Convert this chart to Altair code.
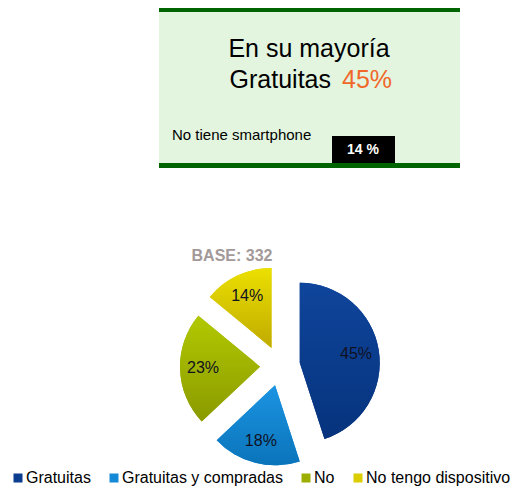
import altair as alt
import pandas as pd

# ---- data ----
categories = ["Gratuitas", "Gratuitas y compradas", "No", "No tengo dispositivo"]
values = [45, 18, 23, 14]
labels = ["45%", "18%", "23%", "14%"]
flat_colors = ["#0c3c8e", "#1689d6", "#9cae00", "#dccd00"]
grad_top = ["#0f459c", "#1c94e2", "#b2c900", "#ebe000"]
grad_bottom = ["#06337c", "#0a74ba", "#8a9a00", "#c0aa00"]

headline_1 = "En su mayoría"
headline_2a = "Gratuitas"
headline_2b = "45%"
side_label = "No tiene smartphone"
side_value = "14 %"
base_label = "BASE: 332"

df = pd.DataFrame({"cat": categories, "value": values, "label": labels,
                   "order": list(range(len(categories)))})

CX, CY, R, EXPLODE, LABEL_R = 272, 358, 80, 20, 57

base = (
    alt.Chart(df)
    .transform_window(cum="sum(value)", sort=[alt.SortField("order")])
    .transform_joinaggregate(total="sum(value)")
    .transform_calculate(
        t0="2*PI*(datum.cum-datum.value)/datum.total",
        t1="2*PI*datum.cum/datum.total",
    )
    .transform_calculate(tm="(datum.t0+datum.t1)/2")
    .transform_calculate(
        ax=f"{CX}+{EXPLODE}*sin(datum.tm)",
        ay=f"{CY}-{EXPLODE}*cos(datum.tm)",
    )
    .transform_calculate(
        lx=f"datum.ax+{LABEL_R}*sin(datum.tm)",
        ly=f"datum.ay-{LABEL_R}*cos(datum.tm)",
    )
)

pos = dict(
    x=alt.X("ax:Q", scale=None, axis=None),
    y=alt.Y("ay:Q", scale=None, axis=None),
    theta=alt.Theta("t0:Q", scale=None),
    theta2="t1:Q",
)

legend_layer = base.mark_arc(radius=R).encode(
    color=alt.Color(
        "cat:N",
        sort=categories,
        scale=alt.Scale(domain=categories, range=flat_colors),
        legend=alt.Legend(
            title=None,
            orient="none",
            legendX=2,
            legendY=462,
            direction="horizontal",
            symbolType="square",
            symbolSize=81,
            symbolStrokeWidth=0,
            labelFontSize=16,
            labelFont="Liberation Sans",
            labelColor="#000000",
            labelOffset=0,
            labelLimit=0,
            columnPadding=15,
            padding=0,
        ),
    ),
    **pos,
)

grad_layers = []
for i, c in enumerate(categories):
    g = alt.LinearGradient(
        gradient="linear",
        stops=[alt.GradientStop(color=grad_top[i], offset=0),
               alt.GradientStop(color=grad_bottom[i], offset=1)],
        x1=0, x2=0, y1=0, y2=1,
    )
    grad_layers.append(
        base.transform_filter(alt.datum.cat == c)
        .mark_arc(radius=R, fill=g)
        .encode(**pos)
    )

slice_text = base.mark_text(
    font="Liberation Sans", fontSize=16, color="#111122", baseline="middle", align="center"
).encode(
    x=alt.X("lx:Q", scale=None, axis=None),
    y=alt.Y("ly:Q", scale=None, axis=None),
    text="label:N",
)

one = alt.Chart(alt.Data(values=[{"k": 0}]))

box = one.mark_rect(color="#e3f5df").encode(
    x=alt.value(151), x2=alt.value(452), y=alt.value(0), y2=alt.value(159))
top_bar = one.mark_rect(color="#006400").encode(
    x=alt.value(151), x2=alt.value(452), y=alt.value(0), y2=alt.value(4))
bot_bar = one.mark_rect(color="#006400").encode(
    x=alt.value(151), x2=alt.value(452), y=alt.value(155), y2=alt.value(160))
black_box = one.mark_rect(color="#000000").encode(
    x=alt.value(324), x2=alt.value(387), y=alt.value(128), y2=alt.value(155))

t1 = one.mark_text(text=headline_1, font="Liberation Sans", fontSize=25, color="#000000",
                   align="center", baseline="alphabetic").encode(x=alt.value(301), y=alt.value(49))
t2a = one.mark_text(text=headline_2a, font="Liberation Sans", fontSize=25, color="#000000",
                    align="right", baseline="alphabetic").encode(x=alt.value(323), y=alt.value(80))
t2b = one.mark_text(text=headline_2b, font="Liberation Sans", fontSize=25, color="#f0682a",
                    align="left", baseline="alphabetic").encode(x=alt.value(334), y=alt.value(80))
t3 = one.mark_text(text=side_label, font="Liberation Sans", fontSize=15, color="#000000",
                   align="left", baseline="alphabetic").encode(x=alt.value(164), y=alt.value(132))
t4 = one.mark_text(text=side_value, font="Liberation Sans", fontSize=14, fontWeight="bold",
                   color="#ffffff", align="center", baseline="alphabetic").encode(
    x=alt.value(355), y=alt.value(146))
t5 = one.mark_text(text=base_label, font="Liberation Sans", fontSize=16, fontWeight="bold",
                   color="#a39999", align="center", baseline="alphabetic").encode(
    x=alt.value(224), y=alt.value(253))

chart = alt.layer(
    box, top_bar, bot_bar, black_box, t1, t2a, t2b, t3, t4, t5,
    legend_layer, *grad_layers, slice_text,
).properties(
    width=510, height=479, padding=0, autosize=alt.AutoSizeParams(type="none")
).configure_view(stroke=None)

chart.save("out.html", embed_options={"renderer": "svg", "actions": False})
